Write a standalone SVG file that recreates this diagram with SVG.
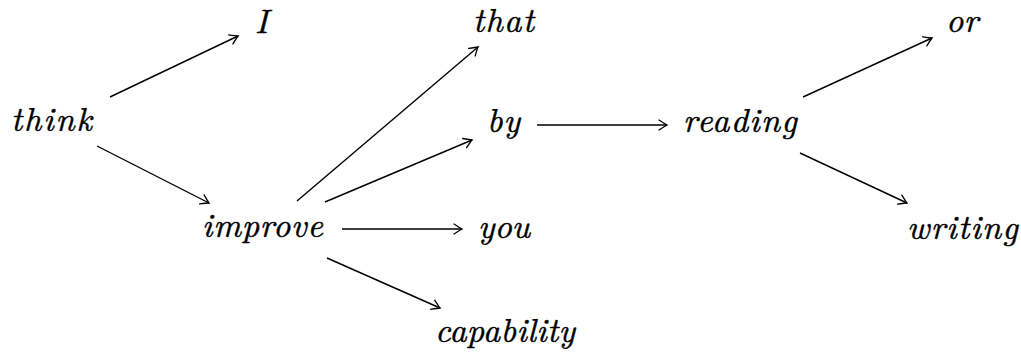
<svg xmlns="http://www.w3.org/2000/svg" width="1021" height="353" viewBox="0 0 1021 353">
<defs>
<marker id="arr" viewBox="-10 -6 12 12" markerWidth="12" markerHeight="12" refX="0" refY="0" orient="auto" markerUnits="userSpaceOnUse">
<path d="M-8,-5 Q-2,-1 0,0 Q-2,1 -8,5" fill="none" stroke="#000" stroke-width="1.3" stroke-linecap="round"/>
</marker>
</defs>
<style>
text{font-family:"Latin Modern Roman","Liberation Serif",serif;font-style:italic;font-size:34px;fill:#000;stroke:#000;stroke-width:0.45}
.e{stroke:#000;stroke-width:1.4;fill:none;marker-end:url(#arr)}
</style>
<rect width="1021" height="353" fill="#fff"/>
<g id="connectors">
<line class="e" x1="110" y1="97" x2="238" y2="36"/>
<line class="e" x1="97" y1="146" x2="209" y2="203"/>
<line class="e" x1="297" y1="201" x2="478" y2="47"/>
<line class="e" x1="325" y1="202" x2="472" y2="140"/>
<line class="e" x1="342" y1="229" x2="462" y2="229"/>
<line class="e" x1="327" y1="258" x2="440" y2="308"/>
<line class="e" x1="537" y1="125" x2="667" y2="125"/>
<line class="e" x1="803" y1="97" x2="932" y2="38"/>
<line class="e" x1="800" y1="153" x2="907" y2="203"/>
</g>
<g id="n-think"><text x="11" y="131" textLength="81" lengthAdjust="spacing">think</text></g>
<g id="n-I"><text x="255" y="33" textLength="20" lengthAdjust="spacing">I</text></g>
<g id="n-that"><text x="473" y="32" textLength="61" lengthAdjust="spacing">that</text></g>
<g id="n-by"><text x="487" y="132" textLength="33" lengthAdjust="spacing">by</text></g>
<g id="n-reading"><text x="683" y="132" textLength="114" lengthAdjust="spacing">reading</text></g>
<g id="n-or"><text x="946" y="32" textLength="32" lengthAdjust="spacing">or</text></g>
<g id="n-writing"><text x="907" y="239" textLength="111" lengthAdjust="spacing">writing</text></g>
<g id="n-improve"><text x="202" y="237" textLength="121" lengthAdjust="spacing">improve</text></g>
<g id="n-you"><text x="478" y="238" textLength="52" lengthAdjust="spacing">you</text></g>
<g id="n-capability"><text x="435" y="342" textLength="140" lengthAdjust="spacing">capability</text></g>
</svg>
